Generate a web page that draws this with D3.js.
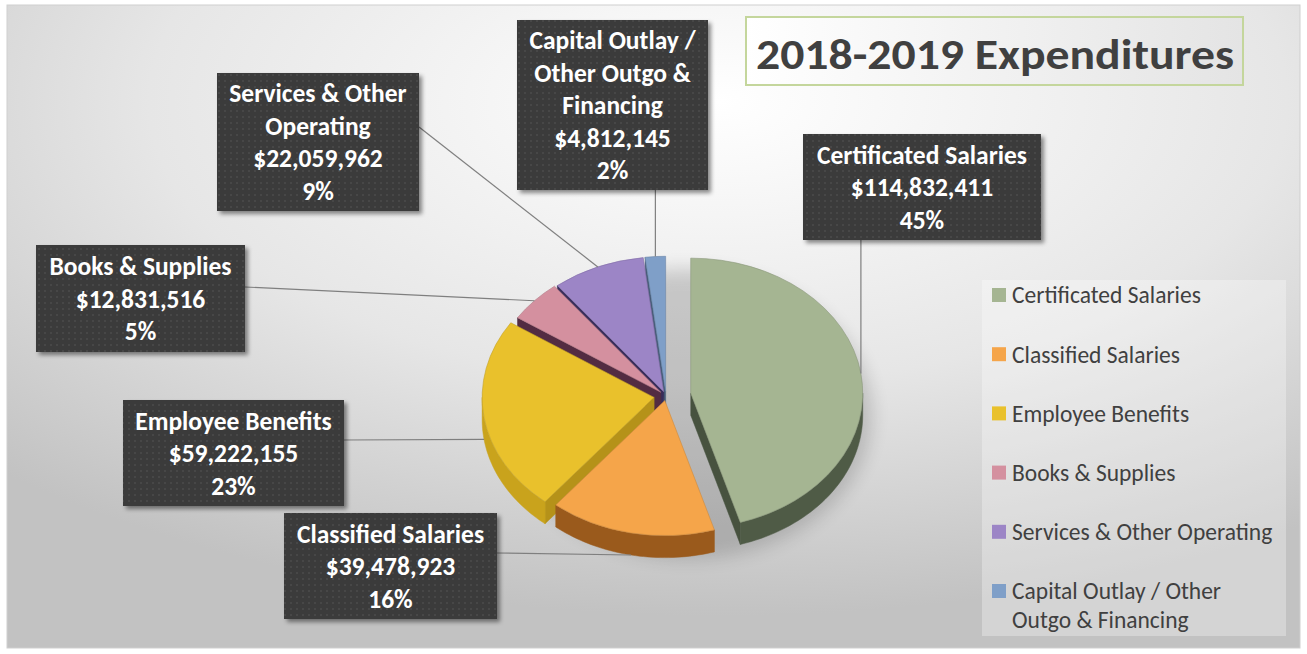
<!DOCTYPE html>
<html><head><meta charset="utf-8">
<script src="https://cdn.jsdelivr.net/npm/d3@7"></script>
<style>html,body{margin:0;padding:0;background:#fff;}svg{display:block;}</style>
</head><body>
<svg id="chart" width="1307" height="654"></svg>
<script>
// ---------- DATA ----------
const categories = ["Certificated Salaries","Classified Salaries","Employee Benefits","Books & Supplies","Services & Other Operating","Capital Outlay / Other Outgo & Financing"];
const values = [114832411, 39478923, 59222155, 12831516, 22059962, 4812145];
const colors = ["#a5b592","#f5a54a","#e9c12c","#d4909f","#9c85c6","#7f9fc8"];
const labelNameLines = [["Certificated Salaries"],["Classified Salaries"],["Employee Benefits"],["Books & Supplies"],["Services & Other","Operating"],["Capital Outlay /","Other Outgo &","Financing"]];
const legendLines = [["Certificated Salaries"],["Classified Salaries"],["Employee Benefits"],["Books & Supplies"],["Services & Other Operating"],["Capital Outlay / Other","Outgo & Financing"]];
const title = "2018-2019 Expenditures";

// ---------- LAYOUT / STYLE ----------
const W = 1307, H = 654;
const font = "Carlito, Calibri, Lato, sans-serif";
const cx = 666, cy = 396, rx = 172, ry = 135, depth = 22;
const explode = [25, 6, 12, 7, 6, 6];
const wallColors = ["#4f5b46","#9a5a1c","#c9a31c","#5c3149","#3d3264","#4d6583"];
const boxes = [
  {x:803,y:134,w:238,h:106, anchor:"bottom"},
  {x:284,y:513,w:213,h:106, anchor:"right", ay:553},
  {x:123,y:400,w:221,h:106, anchor:"right", ay:440},
  {x:36, y:245,w:209,h:107, anchor:"right", ay:287},
  {x:217,y:73, w:202,h:138, anchor:"right", ay:127},
  {x:517,y:20, w:191,h:170, anchor:"bottom"}
];

const svg = d3.select("#chart");
const defs = svg.append("defs");

const bg = defs.append("radialGradient").attr("id","bg").attr("cx","0.55").attr("cy","0.15").attr("r","0.8");
bg.append("stop").attr("offset","0").attr("stop-color","#ffffff");
bg.append("stop").attr("offset","0.55").attr("stop-color","#e6e6e6");
bg.append("stop").attr("offset","1").attr("stop-color","#c2c2c2");

const tg = defs.append("linearGradient").attr("id","tg").attr("x1","0").attr("x2","1");
tg.append("stop").attr("offset","0").attr("stop-color","#ffffff");
tg.append("stop").attr("offset","1").attr("stop-color","#e4e4e4");

const pat = defs.append("pattern").attr("id","dots").attr("width",6).attr("height",6).attr("patternUnits","userSpaceOnUse");
pat.append("rect").attr("width",6).attr("height",6).attr("fill","#3b3b3b");
pat.append("circle").attr("cx",3).attr("cy",3).attr("r",0.8).attr("fill","#545454");

const sh = defs.append("filter").attr("id","shadow").attr("x","-10%").attr("y","-10%").attr("width","130%").attr("height","130%");
sh.append("feDropShadow").attr("dx",3).attr("dy",3).attr("stdDeviation",2).attr("flood-color","#000").attr("flood-opacity",0.45);
const blur = defs.append("filter").attr("id","blur").attr("x","-30%").attr("y","-30%").attr("width","160%").attr("height","160%");
blur.append("feGaussianBlur").attr("stdDeviation",9);

// background frame
svg.append("rect").attr("x",7).attr("y",5).attr("width",1293).attr("height",643)
  .attr("fill","url(#bg)").attr("stroke","#cfcfcf").attr("stroke-width",1);

// ---------- PIE ----------
const pie = d3.pie().sort(null).value(d => d)(values);
const total = d3.sum(values);
const pct = d3.format(".0%");
const money = v => "$" + d3.format(",")(v);
const k = ry / rx;

const slices = pie.map((p, i) => {
  const mid = (p.startAngle + p.endAngle) / 2;
  const ax = cx + explode[i] * Math.sin(mid);
  const ay = cy - explode[i] * Math.cos(mid) * k;
  return {i, p, mid, ax, ay};
});
const P = (s, a) => [s.ax + rx * Math.sin(a), s.ay - ry * Math.cos(a)];

// pie shadow
svg.append("ellipse").attr("cx", cx + 22).attr("cy", cy + 18).attr("rx", rx + 12).attr("ry", ry + 10)
  .attr("fill","#000").attr("opacity",0.16).attr("filter","url(#blur)");

// walls
const walls = [];
slices.forEach(s => {
  const a0 = s.p.startAngle, a1 = s.p.endAngle;
  const b0 = Math.max(a0, Math.PI/2), b1 = Math.min(a1, 3*Math.PI/2);
  if (b1 > b0) {
    const n = 40, top = [], bot = [];
    for (let j = 0; j <= n; j++) { const a = b0 + (b1-b0)*j/n; const q = P(s,a); top.push(q); bot.push([q[0], q[1]+depth]); }
    walls.push({pts: top.concat(bot.reverse()), fill: wallColors[s.i], z: d3.mean(top, q=>q[1]) + depth});
  }
  if (Math.sin(a0) < -1e-6) {
    const q = P(s,a0);
    walls.push({pts:[[s.ax,s.ay],q,[q[0],q[1]+depth],[s.ax,s.ay+depth]], fill: d3.color(wallColors[s.i]).darker(0.3).formatHex(), z:(s.ay+q[1])/2});
  }
  if (Math.sin(a1) > 1e-6) {
    const q = P(s,a1);
    walls.push({pts:[[s.ax,s.ay],q,[q[0],q[1]+depth],[s.ax,s.ay+depth]], fill: d3.color(wallColors[s.i]).darker(0.3).formatHex(), z:(s.ay+q[1])/2});
  }
});
walls.sort((a,b) => a.z - b.z);
const line = d3.line();
svg.append("g").selectAll("path").data(walls).join("path")
  .attr("d", d => line(d.pts) + "Z").attr("fill", d => d.fill)
  .attr("stroke", d => d.fill).attr("stroke-width",0.5);

// top faces
const arc = d3.arc().innerRadius(0).outerRadius(rx);
svg.append("g").selectAll("path").data(slices).join("path")
  .attr("transform", s => `translate(${s.ax},${s.ay}) scale(1,${k})`)
  .attr("d", s => arc(s.p))
  .attr("fill", s => colors[s.i])
  .attr("stroke", s => d3.color(colors[s.i]).darker(0.5).formatHex())
  .attr("stroke-width",0.6).attr("vector-effect","non-scaling-stroke");

// ---------- LEADER LINES + LABELS ----------
slices.forEach(s => {
  const b = boxes[s.i];
  let e = P(s, s.mid);
  if (Math.cos(s.mid) < 0) e = [e[0], e[1] + depth];
  const start = b.anchor === "bottom" ? [e[0], b.y + b.h] : [b.x + b.w, b.ay];
  svg.append("line").attr("x1",start[0]).attr("y1",start[1]).attr("x2",e[0]).attr("y2",e[1])
    .attr("stroke","#7f7f7f").attr("stroke-width",1.2);
});

const lg = svg.append("g");
slices.forEach(s => {
  const b = boxes[s.i];
  const g = lg.append("g");
  g.append("rect").attr("x",b.x).attr("y",b.y).attr("width",b.w).attr("height",b.h)
    .attr("fill","url(#dots)").attr("filter","url(#shadow)");
  const lines = labelNameLines[s.i].concat([money(values[s.i]), pct(values[s.i]/total)]);
  const lh = 32.5;
  const y0 = b.y + b.h/2 - (lines.length-1)*lh/2;
  g.selectAll("text").data(lines).join("text")
    .attr("x", b.x + b.w/2).attr("y", (d,j) => y0 + j*lh).attr("dy","0.36em")
    .attr("text-anchor","middle").attr("fill","#fff").attr("font-weight","bold")
    .attr("font-family",font).attr("font-size",25.5).text(d => d);
});

// ---------- TITLE ----------
svg.append("rect").attr("x",746).attr("y",17).attr("width",497).attr("height",68)
  .attr("fill","url(#tg)").attr("stroke","#c4d69c").attr("stroke-width",2);
svg.append("text").attr("x",995).attr("y",69).attr("text-anchor","middle")
  .attr("font-family",font).attr("font-weight","bold").attr("font-size",42).attr("fill","#404040")
  .attr("textLength",478).attr("lengthAdjust","spacingAndGlyphs").text(title);

// ---------- LEGEND ----------
svg.append("rect").attr("x",982).attr("y",280).attr("width",304).attr("height",356)
  .attr("fill","#ffffff").attr("opacity",0.3);
const rowY = d3.scalePoint().domain(d3.range(categories.length)).range([295, 591]);
const leg = svg.append("g").selectAll("g").data(categories).join("g")
  .attr("transform",(d,i)=>`translate(992,${rowY(i)})`);
leg.append("rect").attr("x",0).attr("y",-7).attr("width",14).attr("height",14).attr("fill",(d,i)=>colors[i]);
leg.each(function(d,i){
  d3.select(this).selectAll("text").data(legendLines[i]).join("text")
    .attr("x",20).attr("y",(t,j)=>j*29).attr("dy","0.36em")
    .attr("font-family",font).attr("font-size",23.5).attr("fill","#404040").text(t=>t);
});
</script>
</body></html>
